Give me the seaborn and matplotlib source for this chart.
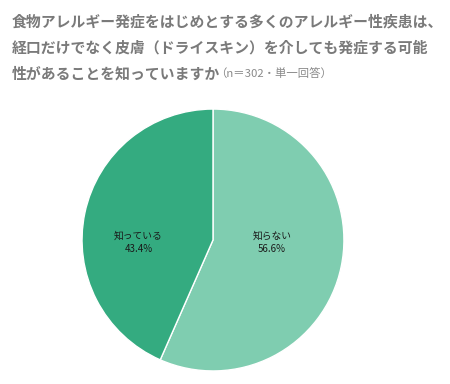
import matplotlib.pyplot as plt
import seaborn as sns

labels = ['知らない', '知っている']
values = [56.6, 43.4]
colors = ['#7fcdb0', '#34ab80']

sns.set_theme(style='white')
plt.rcParams['font.family'] = ['Noto Sans CJK JP', 'DejaVu Sans']

fig = plt.figure(figsize=(4.5, 3.84), dpi=100)
# pie centred at about (213, 240) px, radius ~131 px
ax = fig.add_axes([0.1822, 0.034, 0.5822, 0.682])

wedges, _ = ax.pie(values, colors=colors, startangle=90, counterclock=False,
                   wedgeprops=dict(edgecolor='white', linewidth=1))
ax.set_xlim(-1.0, 1.0)
ax.set_ylim(-1.0, 1.0)
ax.set_aspect('equal')

# label positions (in pie radius units)
label_pos = [(0.45, -0.02), (-0.57, -0.02)]
for (x, y), lab, v in zip(label_pos, labels, values):
    ax.text(x, y, f'{lab}\n{v}%', ha='center', va='center', fontsize=7,
            color='#1a1a1a', linespacing=1.45)

title_lines = ['食物アレルギー発症をはじめとする多くのアレルギー性疾患は、',
               '経口だけでなく皮膚（ドライスキン）を介しても発症する可能',
               '性があることを知っていますか']
ys = [0.945, 0.877, 0.809]
for t, y in zip(title_lines, ys):
    fig.text(0.026, y, t, fontsize=10.7, fontweight='bold', color='#7a7a7a',
             va='center', ha='left')
fig.text(0.478, 0.807, '（n＝302・単一回答）', fontsize=8.2, color='#8a8a8a',
         va='center', ha='left')

fig.savefig('out.png', dpi=100)
